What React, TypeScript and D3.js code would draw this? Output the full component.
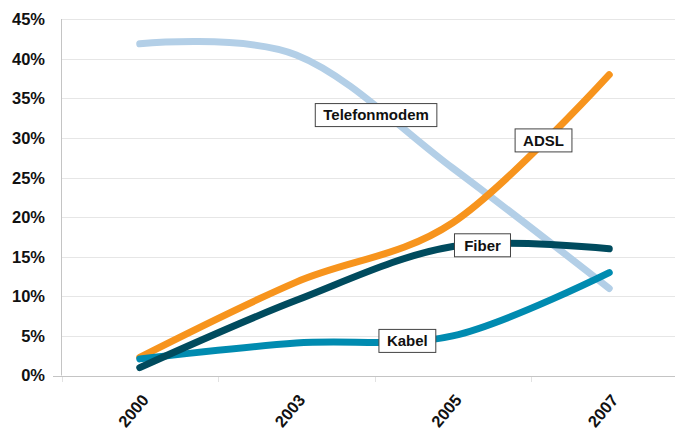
import React, { useEffect, useRef } from "react";
import * as d3 from "d3";

const years = ["2000", "2003", "2005", "2007"];
const telefonmodem = [41.9, 40.5, 26.2, 11];
const adsl = [2.3, 11.8, 19.3, 38];
const kabel = [2.1, 4.1, 5.0, 13];
const fiber = [1, 9.5, 16.3, 16];
const yTicks = [0, 5, 10, 15, 20, 25, 30, 35, 40, 45];

const seriesNames = ["Telefonmodem", "ADSL", "Kabel", "Fiber"];
const seriesValues = [telefonmodem, adsl, kabel, fiber];
const seriesColors = ["#b3cfe7", "#f7941d", "#008bb0", "#004b5e"];

// label anchors in data space: [category index offset, value]
const labelNames = ["Telefonmodem", "ADSL", "Fiber", "Kabel"];
const labelIdx = [1.51, 2.58, 2.19, 1.71];
const labelVal = [32.9, 29.7, 16.45, 4.37];

const W = 675;
const H = 431;

export default function App() {
  const ref = useRef<SVGSVGElement | null>(null);

  useEffect(() => {
    const svg = d3.select(ref.current);
    svg.selectAll("*").remove();
    const font = "'Liberation Sans', Arial, Helvetica, sans-serif";

    const x = d3.scaleBand<string>().domain(years).range([61.5, 687.5]);
    const cx = (i: number) => (x(years[0]) as number) + x.bandwidth() / 2 + i * x.bandwidth();
    const y = d3.scaleLinear().domain([0, 45]).range([375.5, 19.3]);

    // gridlines
    svg
      .append("g")
      .selectAll("line")
      .data(yTicks.filter((t) => t > 0))
      .join("line")
      .attr("x1", 61.5)
      .attr("x2", W)
      .attr("y1", (d) => Math.round(y(d)) + 0.5)
      .attr("y2", (d) => Math.round(y(d)) + 0.5)
      .attr("stroke", "#e6e6e6")
      .attr("stroke-width", 1);

    // y axis line
    svg
      .append("line")
      .attr("x1", 61.5)
      .attr("x2", 61.5)
      .attr("y1", Math.round(y(45)))
      .attr("y2", y(0))
      .attr("stroke", "#c4c4c4");

    // x axis line
    svg
      .append("line")
      .attr("x1", 53)
      .attr("x2", W)
      .attr("y1", Math.round(y(0)) + 0.5)
      .attr("y2", Math.round(y(0)) + 0.5)
      .attr("stroke", "#c4c4c4");

    // x tick marks (band boundaries)
    const bounds = years.map((yr) => x(yr) as number);
    svg
      .append("g")
      .selectAll("line")
      .data(bounds)
      .join("line")
      .attr("x1", (d) => Math.round(d) + 0.5)
      .attr("x2", (d) => Math.round(d) + 0.5)
      .attr("y1", Math.round(y(0)) + 1)
      .attr("y2", Math.round(y(0)) + 6)
      .attr("stroke", "#e2e2e2");

    // y tick labels
    svg
      .append("g")
      .selectAll("text")
      .data(yTicks)
      .join("text")
      .attr("x", 45)
      .attr("y", (d) => y(d))
      .attr("dy", "0.36em")
      .attr("text-anchor", "end")
      .attr("font-family", font)
      .attr("font-weight", "bold")
      .attr("font-size", 16.5)
      .attr("fill", "#111")
      .text((d) => d + "%");

    // x tick labels
    svg
      .append("g")
      .selectAll("text")
      .data(years)
      .join("text")
      .attr("transform", (d, i) => `translate(${cx(i) + 1},${393}) rotate(-50)`)
      .attr("text-anchor", "end")
      .attr("dy", "0.7em")
      .attr("font-family", font)
      .attr("font-weight", "bold")
      .attr("font-size", 16.5)
      .attr("fill", "#111")
      .text((d) => d);

    // lines
    const line = d3
      .line<number>()
      .x((d, i) => cx(i))
      .y((d) => y(d))
      .curve(d3.curveCatmullRom.alpha(0));

    svg
      .append("g")
      .selectAll("path")
      .data(seriesValues)
      .join("path")
      .attr("d", (d) => line(d))
      .attr("fill", "none")
      .attr("stroke", (d, i) => seriesColors[i])
      .attr("stroke-width", 7)
      .attr("stroke-linecap", "round")
      .attr("stroke-linejoin", "round")
      .attr("data-name", (d, i) => seriesNames[i]);

    // labels
    const lg = svg
      .append("g")
      .selectAll("g")
      .data(labelNames)
      .join("g")
      .attr("transform", (d, i) => `translate(${cx(labelIdx[i])},${y(labelVal[i])})`);
    const rects = lg.append("rect");
    const texts = lg
      .append("text")
      .attr("text-anchor", "middle")
      .attr("dy", "0.36em")
      .attr("font-family", font)
      .attr("font-weight", "bold")
      .attr("font-size", 15)
      .attr("fill", "#111")
      .text((d) => d);
    texts.each(function (d, i) {
      const w = (this as SVGTextElement).getComputedTextLength();
      const bw = Math.max(w + 16, 56);
      d3.select(rects.nodes()[i])
        .attr("x", -bw / 2)
        .attr("y", -11.5)
        .attr("width", bw)
        .attr("height", 23)
        .attr("fill", "#fff")
        .attr("stroke", "#444")
        .attr("stroke-width", 1);
    });
  }, []);

  return (
    <svg
      ref={ref}
      width={W}
      height={H}
      style={{ position: "absolute", left: 0, top: 0, background: "#fff", overflow: "hidden" }}
    />
  );
}
